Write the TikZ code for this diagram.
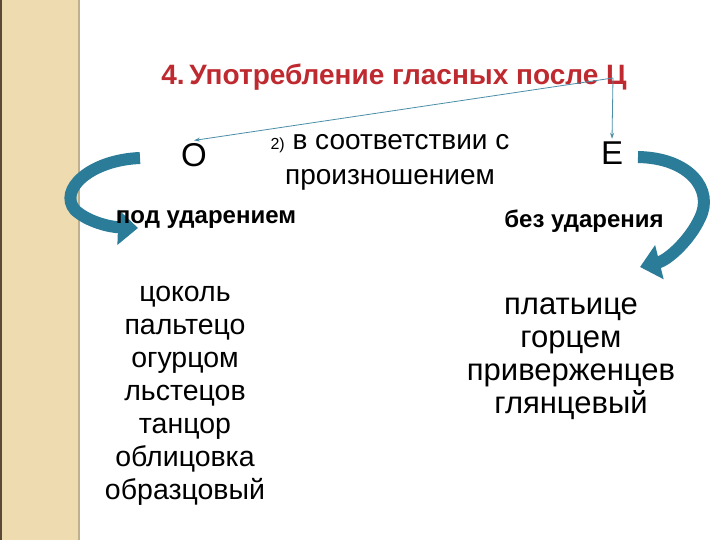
\documentclass[tikz,border=0pt]{standalone}
\usepackage{fontspec}
\setmainfont{Liberation Sans}
\usetikzlibrary{arrows.meta}

\definecolor{stripbeige}{HTML}{EEDCB0}
\definecolor{stripedge}{HTML}{5B4A33}
\definecolor{titlered}{HTML}{BE2A2F}
\definecolor{ribbonblue}{HTML}{2A7C98}
\definecolor{pointerblue}{HTML}{4A8EA8}

\begin{document}
\begin{tikzpicture}[x=1pt,y=-1pt,
    heading/.style={font=\fontsize{28}{32}\selectfont\bfseries, text=titlered},
    letter/.style={font=\fontsize{33}{38}\selectfont},
    stress/.style={font=\fontsize{24}{28}\selectfont\bfseries},
    wordlist/.style={font=\fontsize{#1}{33}\selectfont, align=center},
    pointer/.style={draw=pointerblue, line width=0.8pt, -{Stealth[length=6pt,width=4pt]}},
    ribbon/.style={draw=ribbonblue, line width=12pt, -{Triangle[length=20pt,width=34pt]}}]
    \useasboundingbox (0,0) rectangle (720,540);
    \fill[white] (0,0) rectangle (720,540);

    % Side strip
    \fill[stripbeige] (0,0) rectangle (80,540);
    \fill[stripedge] (0,0) rectangle (2,540);
    \fill[stripbeige!80!black] (78,0) rectangle (80,540);

    % Heading
    \node[heading, anchor=base] (title) at (394,85) {4.\,Употребление гласных после Ц};
    \coordinate (split) at (613,78);

    % The two vowels
    \node[letter, anchor=base] (o) at (194,167) {О};
    \node[letter, anchor=base] (e) at (612,165) {Е};
    \draw[pointer] (split) -- (o.north);
    \draw[pointer] (split) -- (e.north);

    \node[font=\fontsize{28}{35}\selectfont, align=center] (rule) at (390,162)
        {{\fontsize{16}{19}\selectfont 2)} в соответствии с\\произношением};

    % Curved arrows
    \draw[ribbon] (140,158) .. controls (90,160) and (58,190) .. (75,210)
        .. controls (88,222) and (110,227) .. (138,228);
    \draw[ribbon] (638,157) .. controls (690,158) and (714,190) .. (700,218)
        .. controls (690,240) and (668,260) .. (640,267);

    % Stressed / unstressed
    \node[stress, anchor=base] (stressed) at (206,223) {под ударением};
    \node[stress, anchor=base] (unstressed) at (584,227) {без ударения};

    % Examples
    \node[wordlist=28.5] (olist) at (185,396)
        {цоколь\\пальтецо\\огурцом\\льстецов\\танцор\\облицовка\\образцовый};
    \node[wordlist=31] (elist) at (571,359)
        {платьице\\горцем\\приверженцев\\глянцевый};
\end{tikzpicture}
\end{document}
